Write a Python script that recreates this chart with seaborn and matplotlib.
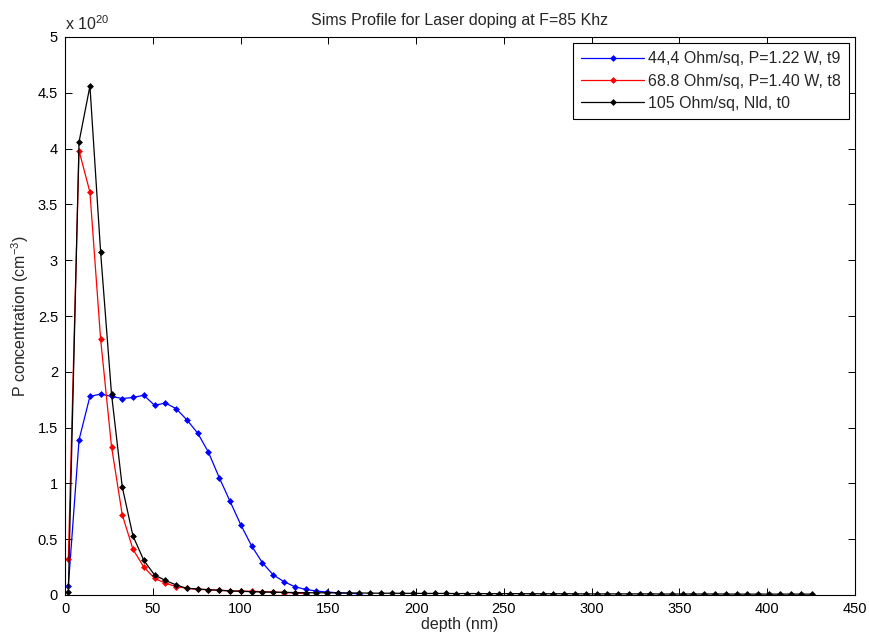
import matplotlib
matplotlib.use("Agg")
import matplotlib.pyplot as plt
import seaborn as sns
import pandas as pd

depth_nm = [1.9, 8.0, 14.2, 20.3, 26.5, 32.6, 38.7, 44.9, 51.0, 57.2,
            63.3, 69.4, 75.6, 81.7, 87.9, 94.0, 100.1, 106.3, 112.4, 118.6,
            124.7, 130.8, 137.0, 143.1, 149.3, 155.4, 161.5, 167.7, 173.8, 180.0,
            186.1, 192.2, 198.4, 204.5, 210.7, 216.8, 222.9, 229.1, 235.2, 241.4,
            247.5, 253.6, 259.8, 265.9, 272.1, 278.2, 284.3, 290.5, 296.6, 302.8,
            308.9, 315.0, 321.2, 327.3, 333.5, 339.6, 345.7, 351.9, 358.0, 364.2,
            370.3, 376.4, 382.6, 388.7, 394.9, 401.0, 407.1, 413.3, 419.4, 425.6]

# P concentration in units of 1e20 cm^-3
blue_t9 = [0.08, 1.39, 1.78, 1.80, 1.78, 1.76, 1.77, 1.79, 1.70, 1.72,
           1.67, 1.57, 1.45, 1.28, 1.05, 0.84, 0.63, 0.44, 0.29, 0.18,
           0.12, 0.075, 0.05, 0.036, 0.026, 0.02, 0.015, 0.012]
red_t8 = [0.32, 3.98, 3.61, 2.29, 1.33, 0.72, 0.41, 0.25, 0.15, 0.105,
          0.075, 0.06, 0.05, 0.047, 0.043, 0.038, 0.035, 0.033, 0.03, 0.027,
          0.022, 0.018, 0.012]
black_t0 = [0.03, 4.06, 4.56, 3.07, 1.80, 0.97, 0.53, 0.31, 0.18, 0.13,
            0.09, 0.06, 0.054, 0.048, 0.042, 0.036, 0.033, 0.03, 0.027, 0.025,
            0.024, 0.022, 0.021, 0.02, 0.02, 0.019, 0.018, 0.018, 0.017, 0.016,
            0.016, 0.015, 0.015, 0.014, 0.014, 0.014, 0.013, 0.013, 0.013, 0.012,
            0.012, 0.012, 0.012, 0.011, 0.011, 0.011, 0.011, 0.011, 0.01, 0.01,
            0.01, 0.01, 0.01, 0.01, 0.01, 0.009, 0.009, 0.009, 0.009, 0.009,
            0.009, 0.009, 0.008, 0.008, 0.008, 0.008, 0.008, 0.008, 0.008, 0.008]

labels = ["44,4 Ohm/sq, P=1.22 W, t9",
          "68.8 Ohm/sq, P=1.40 W, t8",
          "105 Ohm/sq, Nld, t0"]
colors = ["#0000ff", "#ff0000", "#000000"]
x_ticks = [0, 50, 100, 150, 200, 250, 300, 350, 400, 450]
y_ticks = [0, 0.5, 1, 1.5, 2, 2.5, 3, 3.5, 4, 4.5, 5]
y_tick_labels = ["0", "0.5", "1", "1.5", "2", "2.5", "3", "3.5", "4", "4.5", "5"]

sns.set_theme(style="ticks")
plt.rcParams["font.family"] = ["Liberation Sans", "DejaVu Sans"]
plt.rcParams["mathtext.fontset"] = "custom"
plt.rcParams["mathtext.rm"] = "Liberation Sans"
plt.rcParams["mathtext.it"] = "Liberation Sans"

fig = plt.figure(figsize=(8.70, 6.43), dpi=100, facecolor="white")
ax = fig.add_axes([65/870, 1-595/643, (855-65)/870, (595-37)/643])

series = [blue_t9, red_t8, black_t0]
for vals, lab, col in zip(series, labels, colors):
    df = pd.DataFrame({"depth": depth_nm[:len(vals)], "conc": vals})
    sns.lineplot(data=df, x="depth", y="conc", ax=ax, color=col, label=lab,
                 sort=False, estimator=None, linewidth=0.9,
                 marker="D", markersize=3.0, markeredgewidth=0.5,
                 markeredgecolor=col)

ax.set_xlim(0, 450)
ax.set_ylim(0, 5)
ax.set_xticks(x_ticks)
ax.set_yticks(y_ticks)
ax.set_yticklabels(y_tick_labels)
for s in ax.spines.values():
    s.set_visible(True)
    s.set_color("black")
    s.set_linewidth(0.8)
ax.tick_params(direction="in", top=True, right=True, length=5, width=0.7,
               labelsize=10.5, colors="black", pad=5)
ax.set_xlabel("depth (nm)", fontsize=11.5, labelpad=1)
ax.set_ylabel("P concentration (cm$^{-3}$)", fontsize=11.5, labelpad=5)
ax.set_title("Sims Profile for Laser doping at F=85 Khz", fontsize=11.5, pad=9)
ax.text(0.0, 1.008, "x 10$^{20}$", transform=ax.transAxes, fontsize=11.5,
        ha="left", va="bottom")

leg = ax.legend(loc="upper right", fontsize=11.5, frameon=True, fancybox=False,
                edgecolor="black", framealpha=1, borderaxespad=0.4,
                handlelength=3.9, handletextpad=0.25, labelspacing=0.45,
                borderpad=0.5)
leg.get_frame().set_linewidth(0.8)

fig.savefig("out.png", dpi=100, facecolor="white")
